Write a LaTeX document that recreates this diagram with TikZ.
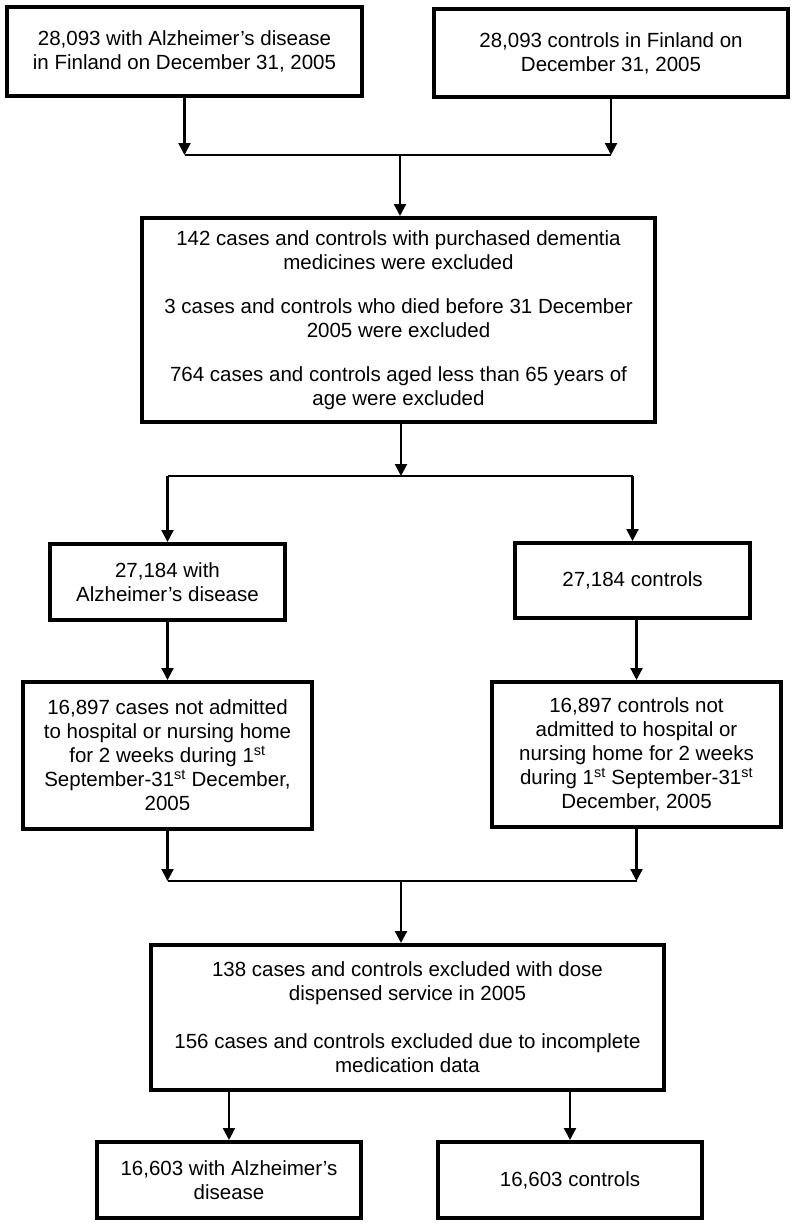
\documentclass[tikz,border=0pt]{standalone}
\usepackage{fontspec}
\setmainfont{Liberation Sans}
\usetikzlibrary{arrows.meta, positioning}
\tikzset{
    flowBox/.style={draw, line width=4pt, align=center, inner sep=0pt, font=\fontsize{20.5}{24}\selectfont},
    flowArrow/.style={-{Triangle[length=12pt, width=12pt]}, line width=2.2pt},
    flowJoin/.style={line width=1.6pt},
}
\begin{document}
\begin{tikzpicture}[x=1pt, y=-1pt]
    \useasboundingbox (0,0) rectangle (796,1226);

    % 1. Start groups
    \node[flowBox, minimum width=355pt, minimum height=89pt] (startCase) at (184.5,51.5) {28,093 with Alzheimer’s disease\\in Finland on December 31, 2005};
    \node[flowBox, minimum width=354pt, minimum height=88pt] (startCtrl) at (611,53) {28,093 controls in Finland on\\December 31, 2005};

    % 2. First exclusions
    \node[flowBox, minimum width=513pt, minimum height=204pt] (exclFirst) at (398.5,320) {142 cases and controls with purchased dementia\\medicines were excluded\\[20pt]3 cases and controls who died before 31 December\\2005 were excluded\\[20pt]764 cases and controls aged less than 65 years of\\age were excluded};

    % 3. Remaining groups
    \node[flowBox, minimum width=235pt, minimum height=76pt] (caseAll) at (167.5,582) {27,184 with\\Alzheimer’s disease};
    \node[flowBox, minimum width=235pt, minimum height=75pt] (ctrlAll) at (632.5,580.5) {27,184 controls};

    % 4. Not admitted
    \node[flowBox, minimum width=289pt, minimum height=147pt] (caseHome) at (167.5,755.5) {16,897 cases not admitted\\to hospital or nursing home\\for 2 weeks during 1\textsuperscript{st}\\September-31\textsuperscript{st} December,\\2005};
    \node[flowBox, minimum width=289pt, minimum height=145pt] (ctrlHome) at (636.5,754.5) {16,897 controls not\\admitted to hospital or\\nursing home for 2 weeks\\during 1\textsuperscript{st} September-31\textsuperscript{st}\\December, 2005};

    % 5. Second exclusions
    \node[flowBox, minimum width=513pt, minimum height=145pt] (exclSecond) at (407.5,1017.5) {138 cases and controls excluded with dose\\dispensed service in 2005\\[24pt]156 cases and controls excluded due to incomplete\\medication data};

    % 6. Final groups
    \node[flowBox, minimum width=264pt, minimum height=76pt] (caseFinal) at (229,1180) {16,603 with Alzheimer’s\\disease};
    \node[flowBox, minimum width=264pt, minimum height=76pt] (ctrlFinal) at (570,1180) {16,603 controls};

    % joints
    \coordinate (mergeTop) at (400,155);
    \coordinate (splitMid) at (401,476);
    \coordinate (mergeBot) at (401,881);

    % connectors
    \draw[flowArrow] (startCase.south) -- (startCase.south |- mergeTop);
    \draw[flowArrow] (startCtrl.south) -- (startCtrl.south |- mergeTop);
    \draw[flowJoin] (startCase.south |- mergeTop) -- (startCtrl.south |- mergeTop);
    \draw[flowArrow] (mergeTop) -- (mergeTop |- exclFirst.north);

    \draw[flowArrow] (splitMid |- exclFirst.south) -- (splitMid);
    \draw[flowJoin] (caseAll.north |- splitMid) -- (ctrlAll.north |- splitMid);
    \draw[flowArrow] (caseAll.north |- splitMid) -- (caseAll.north);
    \draw[flowArrow] (ctrlAll.north |- splitMid) -- (ctrlAll.north);

    \draw[flowArrow] (caseAll.south) -- (caseHome.north);
    \draw[flowArrow] (ctrlHome.north |- ctrlAll.south) -- (ctrlHome.north);

    \draw[flowArrow] (caseHome.south) -- (caseHome.south |- mergeBot);
    \draw[flowArrow] (ctrlHome.south) -- (ctrlHome.south |- mergeBot);
    \draw[flowJoin] (caseHome.south |- mergeBot) -- (ctrlHome.south |- mergeBot);
    \draw[flowArrow] (mergeBot) -- (mergeBot |- exclSecond.north);

    \draw[flowArrow] (caseFinal.north |- exclSecond.south) -- (caseFinal.north);
    \draw[flowArrow] (ctrlFinal.north |- exclSecond.south) -- (ctrlFinal.north);

\end{tikzpicture}
\end{document}
